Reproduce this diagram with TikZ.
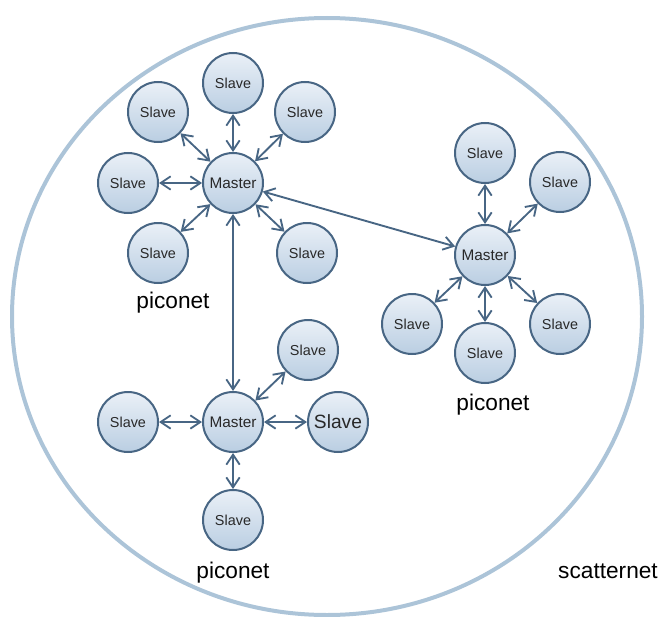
\documentclass[tikz,border=0pt]{standalone}
\usepackage{fontspec}
\setmainfont{Liberation Sans}
\usetikzlibrary{arrows.meta}

\definecolor{rim}{RGB}{172,196,216}
\definecolor{edgeblue}{RGB}{72,102,132}
\definecolor{fillhi}{RGB}{234,240,247}
\definecolor{filllo}{RGB}{186,206,226}
\definecolor{txt}{RGB}{40,40,40}

\begin{document}
\begin{tikzpicture}[x=0.75pt,y=-0.75pt]
   \tikzset{dev/.style={draw=edgeblue,circle,line width=1.5pt,minimum size=45pt,inner sep=0pt,
              top color=fillhi,bottom color=filllo,text=txt,font=\fontsize{#1}{#1}\selectfont},
            master/.style={dev=11.5},
            slave/.style={dev=10.8},
            link/.style={draw=edgeblue,line width=1.4pt,{Straight Barb[length=7.5pt,width=10pt]}-{Straight Barb[length=7.5pt,width=10pt]}},
            netlabel/.style={font=\fontsize{17}{17}\selectfont}};

\useasboundingbox (0,0) rectangle (664,617);
\draw[rim,line width=3pt] (327,316.5) ellipse [x radius=315, y radius=298.5];

% masters
\node[master] (m1) at (233,183) {Master};
\node[master] (m2) at (485,255) {Master} edge[link] (m1);
\node[master] (m3) at (233,422) {Master} edge[link] (m1);

% first piconet
\node[slave] (s11) at (233,83) {Slave} edge[link] (m1);
\node[slave] (s12) at (158,112) {Slave} edge[link] (m1);
\node[slave] (s13) at (305,112) {Slave} edge[link] (m1);
\node[slave] (s14) at (128,183) {Slave} edge[link] (m1);
\node[slave] (s15) at (158,253) {Slave} edge[link] (m1);
\node[slave] (s16) at (307,253) {Slave} edge[link] (m1);
\node[netlabel] (p1) at (173,303) {piconet};

% second piconet
\node[slave] (s21) at (485,153) {Slave} edge[link] (m2);
\node[slave] (s22) at (560,182) {Slave} edge[link] (m2);
\node[slave] (s23) at (412,324) {Slave} edge[link] (m2);
\node[slave] (s24) at (485,353) {Slave} edge[link] (m2);
\node[slave] (s25) at (560,324) {Slave} edge[link] (m2);
\node[netlabel] (p2) at (493,405) {piconet};

% third piconet
\node[slave] (s31) at (308,350) {Slave} edge[link] (m3);
\node[slave] (s32) at (128,422) {Slave} edge[link] (m3);
\node[dev=14.4] (s33) at (338,422) {Slave} edge[link] (m3);
\node[slave] (s34) at (233,520) {Slave} edge[link] (m3);
\node[netlabel] (p3) at (233,573) {piconet};

\node[netlabel] (sc) at (608,571) {scatternet};

\end{tikzpicture}
\end{document}
